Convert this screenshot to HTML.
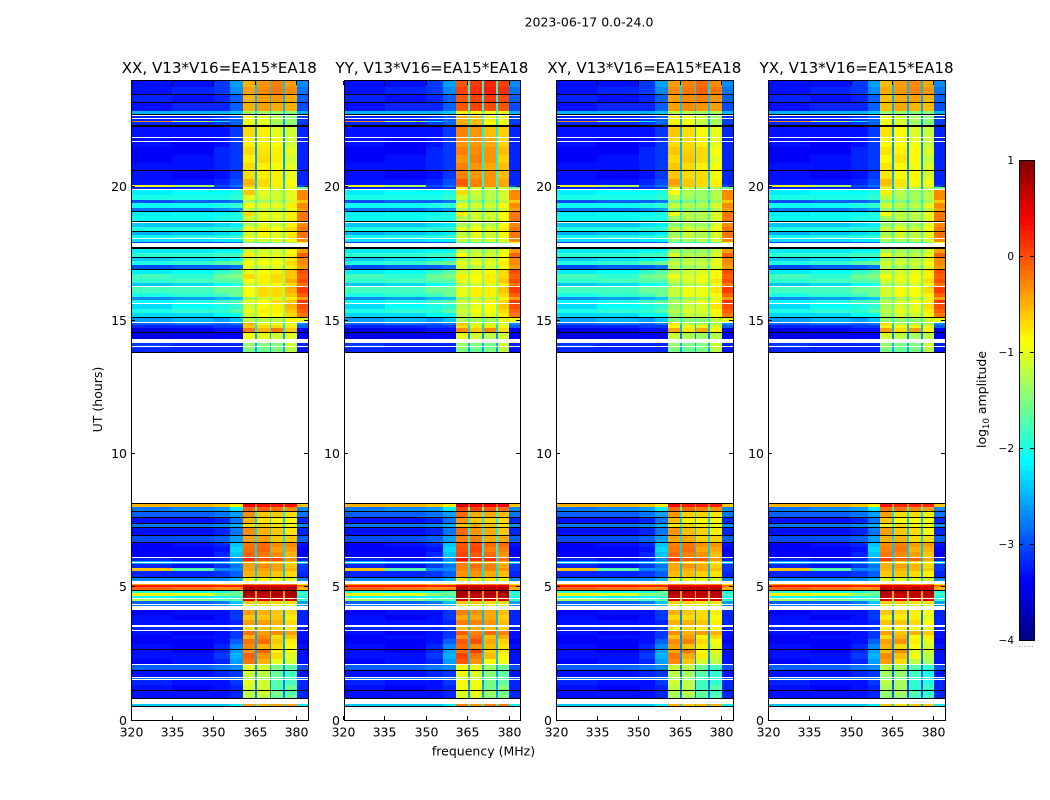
<!DOCTYPE html>
<html>
<head>
<meta charset="utf-8">
<title>2023-06-17 dynamic spectra</title>
<style>
html,body{margin:0;padding:0;background:#fff;}
svg{display:block;}
text{font-family:"DejaVu Sans","Liberation Sans",sans-serif;fill:#000;}
</style>
</head>
<body>
<svg id="chart" xmlns="http://www.w3.org/2000/svg" width="1050" height="800" viewBox="0 0 1050 800">
<text x="589" y="26.5" font-size="12.5" text-anchor="middle">2023-06-17 0.0-24.0</text>
<text x="483.5" y="755.5" font-size="12.5" text-anchor="middle">frequency (MHz)</text>
<text x="0" y="0" font-size="12.5" text-anchor="middle" transform="translate(102,399.5) rotate(-90)">UT (hours)</text>
<text x="0" y="0" font-size="12.5" text-anchor="middle" transform="translate(986,399.5) rotate(-90)">log<tspan font-size="8.5" dy="3">10</tspan><tspan dy="-3"> amplitude</tspan></text>
</svg>
<script>
const panelTitles = ['XX, V13*V16=EA15*EA18','YY, V13*V16=EA15*EA18','XY, V13*V16=EA15*EA18','YX, V13*V16=EA15*EA18'];
const freqTicks = [320,335,350,365,380];
const utTicks = [0,5,10,15,20];
const colorTicks = [-4,-3,-2,-1,0,1];
const freqEdges = [320,335,350,356,360.6,365,365.7,370.2,370.9,375.2,375.9,380,384];
const bandOfColumn = [0,1,2,3,4,9,5,9,6,9,7,8];
const blockEdges = [0,4.1,5.2,8.2,14,20,24];
const panelBandOffsets = [
  [0,0,0,0,0,0],
  [0.15,0,0.15,0,-0.1,0.45],
  [-0.1,-0.05,-0.05,0,-0.25,0.1],
  [-0.2,-0.05,-0.1,0,-0.2,-0.05]
];
/* each row: start UT, then log10 amplitude in bands 320-335, 335-350, 350-356, 356-360.6, spw1, spw2, spw3, spw4, 380-384, spw gaps */
const rowLevels = [
[0.525,-2.4,-2.4,-2.4,-2.2,-0.4,-0.5,-0.4,-0.4,-2.2,-2.2],
[0.6,-3.3,-3.3,-3.3,-3.2,-1.2,-1.2,-1.6,-1.6,-3.2,-2.7],
[0.95,-3.3,-3.3,-3.3,-3.2,-1.2,-1.1,-1.5,-1.7,-3.2,-2.8],
[1.12,-3.3,-3.4,-3.3,-3.2,-1.1,-1.1,-1.7,-1.6,-3.2,-2.7],
[1.3,-3.2,-3.3,-3.3,-3.1,-1,-1.1,-1.7,-1.8,-3.2,-2.8],
[1.5,-2.8,-2.8,-2.8,-2.8,-1.3,-1.3,-1.7,-1.9,-2.9,-2.6],
[1.62,-3.3,-3.3,-3.2,-3.1,-1.1,-1.2,-1.6,-1.8,-3.3,-2.7],
[1.88,-2.9,-2.9,-2.8,-2.7,-1,-1.1,-1.5,-1.7,-3,-2.6],
[2.1,-3.4,-3.3,-3.2,-2.6,-0.2,-0.5,-1,-1.1,-3.3,-2.6],
[2.3,-3.3,-3.3,-3.1,-2.5,-0.1,-0.35,-0.7,-1,-3.3,-2.5],
[2.5,-3.3,-3.4,-3.2,-2.6,-0.35,-0.1,-0.8,-0.9,-3.3,-2.6],
[2.64,-3.3,-3.4,-3.2,-2.7,-0.3,-0.5,-0.7,-0.9,-3.3,-2.6],
[2.85,-3.4,-3.4,-3.3,-2.9,-0.2,-0.15,-0.6,-0.8,-3.4,-2.5],
[3.05,-3.4,-3.3,-3.3,-3.1,-0.5,-0.3,-0.7,-0.6,-3.3,-2.6],
[3.2,-3.3,-3.4,-3.3,-3.1,-0.2,-0.4,-0.3,-0.4,-3.3,-2.5],
[3.37,-3.2,-3.2,-3.2,-3.1,-0.7,-0.6,-0.7,-0.8,-3.2,-2.6],
[3.56,-3.3,-3.3,-3.3,-3.2,-0.4,-0.4,-0.5,-0.7,-3.2,-2.6],
[3.75,-3.3,-3.4,-3.3,-3.1,-0.6,-0.6,-0.6,-0.8,-3.2,-2.6],
[3.95,-3.4,-3.3,-3.3,-3.1,-0.4,-0.5,-0.6,-0.7,-3.2,-2.6],
[4.12,-2.8,-2.8,-2.7,-2.5,-0.8,-0.8,-0.9,-1,-2.7,-2.2],
[4.35,-2.9,-2.9,-2.8,-2.4,-0.6,-0.6,-0.7,-0.7,-2.6,-1.7],
[4.45,-1.3,-1.5,-1.8,-1.7,0.6,0.6,0.6,0.6,-1.9,-0.7],
[4.56,-2.1,-2.2,-2.1,-1.9,0.7,0.7,0.7,0.7,-2.1,-0.5],
[4.66,-0.8,-1,-1.4,-1.6,0.8,0.7,0.8,0.8,-1.8,-0.4],
[4.76,-1.9,-2,-2,-1.7,0.8,0.8,0.7,0.8,-2,-0.4],
[4.88,-0.1,-0.2,-0.3,-0.3,0.75,0.75,0.75,0.75,-0.5,0.5],
[4.97,0.25,0.25,0.2,0.2,0.55,0.55,0.5,0.55,-0.2,0.4],
[5.07,-0.4,-0.4,-0.5,-0.5,-0.2,-0.2,-0.2,-0.2,-0.7,-0.4],
[5.21,-2.7,-2.7,-2.7,-2.5,-0.9,-0.9,-0.9,-1,-2.7,-2.2],
[5.36,-3.2,-3.2,-3.1,-2.9,-0.5,-0.5,-0.6,-0.7,-3.2,-2.4],
[5.6,-0.6,-1.7,-2.7,-2.7,-0.4,-0.4,-0.4,-0.5,-3.1,-2.4],
[5.7,-3.2,-3.3,-3.1,-2.8,-0.4,-0.3,-0.4,-0.6,-3.1,-2.4],
[5.84,-2.5,-2.6,-2.6,-2.4,-0.4,-0.6,-0.6,-0.7,-2.5,-2],
[5.95,-3.2,-3.3,-3.2,-2.7,0.2,0,0,-0.3,-3.2,-2.4],
[6.11,-3.4,-3.4,-3.2,-2.4,-0.1,-0.2,-0.3,-0.5,-3.4,-2.3],
[6.3,-3.4,-3.4,-3.3,-2.3,-0.15,-0.1,-0.4,-0.4,-3.4,-2.3],
[6.5,-3.4,-3.3,-3.2,-2.4,-0.2,-0.15,-0.3,-0.3,-3.3,-2.3],
[6.67,-3,-3,-2.9,-2.6,-0.4,-0.4,-0.6,-0.6,-2.9,-2.2],
[6.9,-3.3,-3.3,-3.2,-2.8,-0.3,-0.5,-0.6,-0.75,-3.2,-2.3],
[7.2,-2.8,-2.8,-2.7,-2.5,-0.7,-0.6,-0.7,-0.85,-2.7,-2],
[7.35,-3.3,-3.3,-3.2,-2.8,-0.5,-0.75,-0.8,-0.85,-3.2,-2.3],
[7.61,-2.9,-2.9,-2.8,-2.6,-0.3,-0.6,-0.6,-0.7,-2.8,-2.1],
[7.8,-2.8,-2.7,-2.6,-2.2,-0.1,-0.1,-0.2,-0.3,-2.7,-1.9],
[7.98,-0.5,-0.5,-0.6,-0.8,0.4,0.3,0.3,0.3,-0.6,-0.2],
[8.11,null],
[13.78,-3.2,-3.2,-3.2,-3.2,-1.5,-1.6,-1.5,-1.2,-3.3,-2.5],
[13.95,-3.1,-3.2,-3.2,-3.2,-1.4,-1.5,-1.5,-1.1,-3.2,-2.5],
[14.13,-3.4,-3.4,-3.3,-3.3,-1.4,-1.3,-1.3,-1.1,-3.3,-2.6],
[14.28,-3.5,-3.5,-3.4,-3.4,-0.9,-1,-1.1,-1,-3.4,-2.5],
[14.5,-0.4,-0.6,-0.8,-0.9,-0.8,-0.8,-0.8,-0.7,-0.9,-1.5],
[14.56,-3.5,-3.4,-3.3,-3.3,-0.2,-0.5,-0.2,-0.6,-3.4,-2.2],
[14.7,-3.2,-3.2,-3.1,-3.1,-0.6,-0.7,-0.7,-0.8,-2.9,-2.2],
[14.8,-2.9,-2.8,-2.9,-2.8,-0.5,-1,-1,-1,-2.7,-2],
[14.92,-2.6,-2.5,-2.6,-2.4,-1.2,-1.2,-1.2,-0.9,-1,-1.8],
[15.11,-2.3,-2.3,-2.1,-2.1,-1.1,-0.9,-0.9,-0.7,-0.2,-1.6],
[15.25,-2,-1.9,-1.9,-1.7,-1,-0.8,-0.8,-0.6,-0.1,-1.4],
[15.4,-2.3,-2.1,-2,-1.9,-1.1,-0.9,-0.8,-0.5,0,-1.5],
[15.6,-2.1,-2,-1.8,-1.7,-1,-0.9,-0.7,-0.6,0.1,-1.4],
[15.75,-2.7,-2.6,-2.5,-2.4,-1.3,-1.1,-1,-0.8,-0.4,-1.7],
[15.88,-2,-1.9,-1.8,-1.6,-0.9,-0.7,-0.7,-0.6,-0.1,-1.3],
[16.02,-1.8,-1.8,-1.6,-1.6,-0.9,-0.7,-0.7,-0.5,0.1,-1.3],
[16.24,-2.4,-2.3,-2.1,-2,-1.1,-1,-0.9,-0.7,-0.2,-1.6],
[16.38,-1.9,-1.8,-1.7,-1.7,-0.9,-0.8,-0.7,-0.5,0,-1.4],
[16.55,-1.8,-1.9,-1.6,-1.5,-0.7,-0.8,-0.7,-0.6,-0.1,-1.3],
[16.72,-2.2,-2.1,-1.9,-1.7,-1,-0.9,-0.8,-0.6,0,-1.5],
[16.91,-3,-2.9,-2.9,-2.8,-1,-1.1,-1,-0.8,-0.4,-1.8],
[17.05,-2,-1.9,-1.7,-1.6,-0.9,-0.9,-0.9,-0.7,-0.3,-1.4],
[17.2,-2.4,-2.3,-2.2,-2.1,-1.1,-1,-1,-0.8,-0.3,-1.7],
[17.36,-1.9,-1.9,-1.8,-1.8,-0.8,-1,-1,-0.8,-0.1,-1.5],
[17.5,-2.2,-2.2,-2.1,-2.1,-1.1,-1.1,-1.1,-0.9,-0.4,-1.7],
[17.7,-3,-3,-3,-2.9,-1.5,-1.5,-1.5,-1.3,-0.9,-2],
[17.92,-2.3,-2.3,-2.2,-2.2,-1.1,-1.1,-1,-0.9,-0.3,-1.7],
[18.07,-2.1,-2,-2,-1.9,-1,-0.9,-1,-0.8,-0.2,-1.6],
[18.2,-2.5,-2.4,-2.3,-2.2,-1.1,-0.9,-1,-0.8,-0.2,-1.7],
[18.3,-2,-2,-1.9,-1.9,-0.9,-0.8,-0.9,-0.7,-0.2,-1.5],
[18.5,-2.4,-2.4,-2.3,-2.2,-1.2,-1,-1.1,-0.8,-0.3,-1.7],
[18.71,-2.1,-2.1,-2,-2,-1.1,-1,-1,-0.8,-0.2,-1.6],
[18.9,-2.2,-2.1,-2.1,-2,-0.7,-1,-1,-0.8,-0.2,-1.6],
[19.05,-2.8,-2.8,-2.7,-2.6,-1.2,-1.2,-1.2,-1,-0.4,-1.9],
[19.2,-2.1,-2.1,-2,-1.9,-0.9,-1,-1,-0.8,-0.3,-1.6],
[19.38,-3,-2.9,-2.9,-2.8,-1.3,-1.3,-1.2,-1.1,-0.6,-2],
[19.5,-2,-2,-2,-1.9,-1,-1.1,-1.1,-1,-0.3,-1.6],
[19.7,-2.2,-2.1,-2.1,-2,-0.6,-1,-1.1,-1,-0.3,-1.7],
[19.87,-3.2,-3.2,-3.2,-3.1,-0.8,-0.9,-1,-1,-1.6,-2.4],
[20,-1,-1.3,-3,-2.8,-0.6,-0.7,-0.8,-0.9,-3,-2.4],
[20.06,-3.3,-3.3,-3.2,-3,-0.5,-0.7,-0.8,-0.9,-3.2,-2.4],
[20.3,-3.3,-3.4,-3.3,-3.1,-0.7,-0.8,-0.8,-1,-3.2,-2.5],
[20.62,-3.3,-3.3,-3.2,-3.1,-0.7,-0.8,-0.9,-1,-3.2,-2.6],
[20.9,-3.4,-3.3,-3.2,-3.1,-0.8,-0.7,-0.8,-1.1,-3.2,-2.6],
[21.2,-3.4,-3.4,-3.2,-3.1,-0.7,-0.75,-0.8,-1,-3.2,-2.6],
[21.5,-3.3,-3.4,-3.3,-3.1,-0.8,-0.8,-0.9,-1.1,-3.2,-2.6],
[21.86,-3.3,-3.3,-3.3,-3.1,-0.7,-0.8,-1,-1.1,-3.2,-2.6],
[22.23,-3.2,-3.2,-3.1,-2.9,-0.9,-1,-1.3,-1.4,-3.1,-2.6],
[22.42,-0.3,-1.2,-2.2,-2.8,-1,-1,-1.3,-1.4,-3,-2.5],
[22.48,-3.2,-3.2,-3.1,-2.9,-0.9,-1,-1.2,-1.4,-3.1,-2.6],
[22.72,-2.5,-2.5,-2.5,-2.4,-1.3,-1.3,-1.4,-1.4,-2.5,-2.2],
[22.85,-3.3,-3.2,-3.2,-2.9,-0.5,-0.4,-0.45,-0.5,-3,-2.5],
[23.17,-3.2,-3.3,-3.2,-2.9,-0.5,-0.4,-0.35,-0.45,-2.9,-2.5],
[23.44,-3.3,-3.2,-3.1,-2.7,-0.4,-0.3,-0.2,-0.3,-2.8,-2.4],
[23.75,-3.3,-3.3,-3.1,-2.6,-0.5,-0.35,-0.25,-0.4,-2.7,-2.4],
[24,null]
];
const whiteFlags = [[0.6,0.79],[1.49,1.52],[1.6,1.63],[2.08,2.11],[3.36,3.39],[3.49,3.57],[4.12,4.27],[4.31,4.36],[4.53,4.56],[5.1,5.21],[5.88,5.91],[6.1,6.13],[14.01,14.04],[14.13,14.28],[14.91,14.94],[15.59,15.62],[16.23,16.26],[17.75,17.9],[18.06,18.09],[18.63,18.66],[19.86,19.92],[21.7,21.73],[21.85,21.88],[22.53,22.56],[22.64,22.67]];
const blackFlags = [[0.51,0.54],[0.81,0.84],[1.11,1.14],[1.86,1.89],[2.63,2.66],[4.86,4.89],[5.35,5.38],[6.66,6.69],[6.89,6.92],[7.19,7.22],[7.34,7.37],[7.6,7.63],[7.79,7.82],[8.1,8.13],[13.77,13.8],[14.51,14.54],[15.1,15.13],[16.9,16.93],[17.35,17.38],[17.68,17.72],[18.29,18.32],[18.7,18.73],[19.04,19.07],[20.61,20.64],[22.23,22.3],[22.71,22.74],[23.16,23.19],[23.43,23.46]];
const colorLevelCount = 96;

const SVGNS = 'http://www.w3.org/2000/svg';
const svg = document.getElementById('chart');
const panelLefts = [131,343.6,556,768.3];
const plotW = 176.6, plotTop = 80, plotH = 640;
const fx = (f, left) => left + (f - 320) / 64 * plotW;
const uy = u => plotTop + plotH - u / 24 * plotH;
const colorY = v => 640 - (v + 4) / 5 * 480;

function make(tag, attrs, parent) {
  const el = document.createElementNS(SVGNS, tag);
  for (const k in attrs) el.setAttribute(k, attrs[k]);
  parent.appendChild(el);
  return el;
}
function jet(v) {
  const n = Math.max(0, Math.min(1, (v + 4) / 5));
  const ch = c => Math.round(255 * Math.max(0, Math.min(1, 1.5 - Math.abs(4 * n - c))));
  return 'rgb(' + ch(3) + ',' + ch(2) + ',' + ch(1) + ')';
}
function blockOffset(panel, t) {
  for (let i = 0; i < blockEdges.length - 1; i++) {
    if (t >= blockEdges[i] && t < blockEdges[i + 1]) return panelBandOffsets[panel][i];
  }
  return 0;
}

panelTitles.forEach((title, p) => {
  const left = panelLefts[p];
  const frameL = Math.round(left), frameR = Math.round(left + plotW);
  const g = make('g', {}, svg);
  
  
  const cells = make('g', {'shape-rendering': 'crispEdges'}, g);
  for (let r = 0; r < rowLevels.length - 1; r++) {
    const row = rowLevels[r];
    if (row[1] === null) continue;
    const t0 = row[0], t1 = rowLevels[r + 1][0];
    const off = blockOffset(p, t0);
    for (let c = 0; c < bandOfColumn.length; c++) {
      const band = bandOfColumn[c];
      let v = row[1 + band];
      if (band >= 4 && band !== 8) v += off;
      const x0 = Math.round(fx(freqEdges[c], left)), x1 = Math.round(fx(freqEdges[c + 1], left));
      const y0 = Math.round(uy(t1)), y1 = Math.round(uy(t0));
      const cell = make('rect', {x: x0, y: y0, width: Math.max(1, x1 - x0), height: Math.max(1, y1 - y0), fill: jet(v)}, cells);
      
      
    }
  }
  whiteFlags.forEach(w => {
    const y0 = Math.round(uy(w[1])), y1 = Math.round(uy(w[0]));
    const bar = make('rect', {x: frameL, y: y0, width: frameR - frameL, height: Math.max(1, y1 - y0), fill: '#fff'}, cells);
    
    
  });
  blackFlags.forEach(w => {
    const y0 = Math.round(uy(w[1])), y1 = Math.round(uy(w[0]));
    const bar = make('rect', {x: frameL, y: y0, width: frameR - frameL, height: Math.max(1, y1 - y0), fill: '#000'}, cells);
    
    
  });
  const frame = make('rect', {x: frameL + 0.5, y: plotTop + 0.5, width: frameR - frameL, height: plotH, fill: 'none', stroke: '#000', 'stroke-width': 1, 'shape-rendering': 'crispEdges'}, g);
  
  
  const titleEl = make('text', {x: left + plotW / 2, y: 73, 'font-size': 15.1, 'text-anchor': 'middle'}, g);
  titleEl.textContent = title;
  
  
  freqTicks.forEach(f => {
    const x = Math.floor(fx(f, left)) + 0.5;
    const tick = make('path', {d: 'M' + x + ' 720v-4M' + x + ' 81v4', stroke: '#000', fill: 'none'}, g);
    
    
    const label = make('text', {x: x, y: 736.5, 'font-size': 12.5, 'text-anchor': 'middle'}, g);
    label.textContent = String(f);
    
    
  });
  utTicks.forEach(u => {
    const y = Math.floor(uy(u)) + 0.5;
    const tick = make('path', {d: 'M' + frameL + ' ' + y + 'h4M' + frameR + ' ' + y + 'h-4', stroke: '#000', fill: 'none'}, g);
    
    
    const label = make('text', {x: frameL - 4, y: y + 4.5, 'font-size': 12.5, 'text-anchor': 'end'}, g);
    label.textContent = String(u);
    
    
  });
});

const bar = make('g', {}, svg);


for (let i = 0; i < colorLevelCount; i++) {
  const v0 = -4 + 5 * i / colorLevelCount, v1 = -4 + 5 * (i + 1) / colorLevelCount;
  const y1 = colorY(v0), y0 = colorY(v1);
  const swatch = make('rect', {x: 1019, y: y0, width: 15, height: y1 - y0 + 0.5, fill: jet((v0 + v1) / 2), 'shape-rendering': 'crispEdges'}, bar);
  
  
}
const barFrame = make('rect', {x: 1019.5, y: 160.5, width: 15, height: 480, fill: 'none', stroke: '#000', 'shape-rendering': 'crispEdges'}, bar);


colorTicks.forEach(v => {
  const y = Math.round(colorY(v)) + 0.5;
  const tick = make('path', {d: 'M1019 ' + y + 'h4M1034 ' + y + 'h-4', stroke: '#000', fill: 'none'}, bar);
  
  
  const label = make('text', {x: 1014, y: y + 3.5, 'font-size': 10.5, 'text-anchor': 'end'}, bar);
  label.textContent = (v < 0 ? '\u2212' + (-v) : String(v));
  
  
});
const dots = make('text', {x: 1026, y: 647, 'font-size': 8, 'text-anchor': 'middle', style: 'fill:#888'}, bar);
dots.textContent = '......';


</script>
</body>
</html>
